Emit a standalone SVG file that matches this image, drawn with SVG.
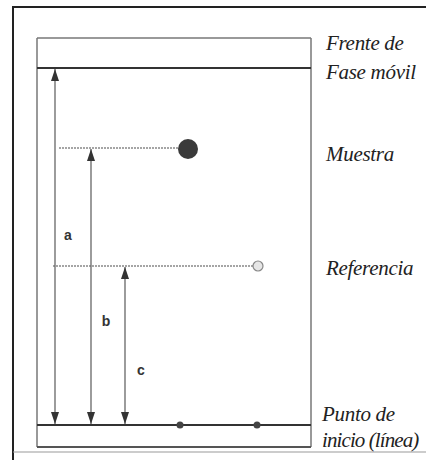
<svg xmlns="http://www.w3.org/2000/svg" width="426" height="461" viewBox="0 0 426 461">
<style>
.lbl{font-family:"Liberation Serif",serif;font-style:italic;font-size:21px;fill:#222;letter-spacing:-0.3px}
.ltr{font-family:"Liberation Sans",Arial,sans-serif;font-weight:bold;font-size:14px;fill:#333;text-anchor:middle}
.plate{stroke:#777;stroke-width:1.5;fill:none}
.dim{stroke:#666;stroke-width:1.3;fill:none}
.guide{stroke:#888;stroke-width:1.3;stroke-dasharray:2 1;fill:none}
</style>
<defs>
<marker id="ah" viewBox="0 0 12 8" refX="12" refY="4" markerWidth="12" markerHeight="8" markerUnits="userSpaceOnUse" orient="auto">
<path d="M0,0 L12,4 L0,8 Z" fill="#333"/>
</marker>
</defs>
<rect width="426" height="461" fill="#fff"/>
<g id="frame">
<path d="M13,460 L13,7 L426,7" stroke="#222" stroke-width="2" fill="none"/>
<line x1="13" y1="452" x2="426" y2="452" stroke="#999" stroke-width="1"/>
</g>
<g id="plate">
<line x1="37" y1="38" x2="311" y2="38" class="plate"/>
<line x1="37" y1="38" x2="37" y2="447" class="plate"/>
<line x1="311" y1="38" x2="311" y2="447" class="plate"/>
<line x1="37" y1="447" x2="311" y2="447" stroke="#555" stroke-width="2"/>
</g>
<g id="frente">
<line x1="37" y1="68" x2="311" y2="68" stroke="#333" stroke-width="1.8"/>
<text class="lbl" x="326" y="50">Frente de</text>
<text class="lbl" x="326" y="79">Fase móvil</text>
</g>
<g id="muestra">
<line x1="59" y1="148" x2="180" y2="148" class="guide"/>
<circle cx="188" cy="149" r="10" fill="#3a3a3a"/>
<text class="lbl" x="326" y="161">Muestra</text>
</g>
<g id="referencia">
<line x1="53" y1="266" x2="253" y2="266" class="guide"/>
<circle cx="258" cy="266" r="5" fill="#e6e6e6" stroke="#888" stroke-width="1.2"/>
<text class="lbl" x="326" y="275">Referencia</text>
</g>
<g id="origen">
<line x1="37" y1="425" x2="311" y2="425" stroke="#333" stroke-width="1.8"/>
<circle cx="180" cy="425" r="3.5" fill="#444"/>
<circle cx="257" cy="425" r="3.5" fill="#444"/>
<text class="lbl" x="322" y="421">Punto de</text>
<text class="lbl" x="322" y="447" style="letter-spacing:-0.9px">inicio (línea)</text>
</g>
<g id="connectors">
<line x1="55" y1="246" x2="55" y2="69" class="dim" marker-end="url(#ah)"/>
<line x1="55" y1="246" x2="55" y2="424" class="dim" marker-end="url(#ah)"/>
<line x1="91" y1="286" x2="91" y2="149" class="dim" marker-end="url(#ah)"/>
<line x1="91" y1="286" x2="91" y2="424" class="dim" marker-end="url(#ah)"/>
<line x1="125" y1="345" x2="125" y2="267" class="dim" marker-end="url(#ah)"/>
<line x1="125" y1="345" x2="125" y2="424" class="dim" marker-end="url(#ah)"/>
</g>
<g id="labels">
<text class="ltr" x="68" y="240">a</text>
<text class="ltr" x="106" y="326">b</text>
<text class="ltr" x="141" y="375">c</text>
</g>
</svg>
